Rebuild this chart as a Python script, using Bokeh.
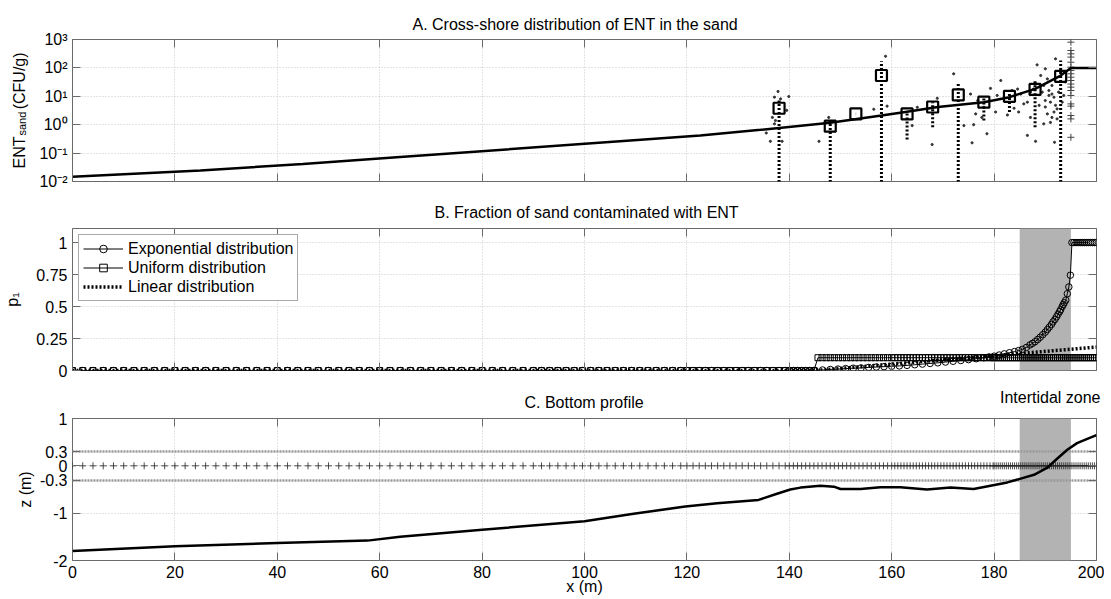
import numpy as np
from bokeh.plotting import figure
from bokeh.models import (Range1d, FixedTicker, CustomJSTickFormatter, LinearAxis, LogAxis,
                          Title, Legend, LegendItem, BoxAnnotation)
from bokeh.layouts import column
from bokeh.embed import file_html
from bokeh.resources import INLINE

FONT = "Liberation Sans"

# ---------------- data ----------------
X_TICKS = [0, 20, 40, 60, 80, 100, 120, 140, 160, 180, 200]
A_Y_TICKS = [1e-2, 1e-1, 1e0, 1e1, 1e2, 1e3]
B_Y_TICKS = [0, 0.25, 0.5, 0.75, 1]
C_Y_TICKS = [-2, -1, -0.3, 0, 0.3, 1]

TITLE_A = "A. Cross-shore distribution of ENT in the sand"
TITLE_B = "B. Fraction of sand contaminated with ENT"
TITLE_C = "C. Bottom profile"
ZONE_LABEL = "Intertidal zone"
Y_LABEL_A = "ENT\u2003\u2002\u2009(CFU/g)"
Y_LABEL_A_SUB = "sand"
Y_LABEL_B = "p\u2081"
Y_LABEL_C = "z (m)"
X_LABEL = "x (m)"
INTERTIDAL = [185, 195]

# Panel A: fitted curve, station means and ranges, individual samples
FIT_X = [0, 25, 45, 64, 122.6, 134.4, 148, 158, 163, 169, 178, 183, 188, 193, 195, 200]
FIT_ENT = [0.0148, 0.0245, 0.0417, 0.0724, 0.417, 0.661, 1.17, 2.09, 2.88, 4.17, 6.17,
           9.33, 18.2, 53.7, 100, 100]
STATION_X = [138, 148, 153, 158, 163, 168, 173, 178, 183, 188, 193]
STATION_MEAN = [3.8, 0.89, 2.4, 54, 2.4, 4.2, 11.2, 6.2, 10, 17.4, 50]
STATION_HIGH = [7.1, 1.6, 2.4, 170, 3.0, 6.2, 27, 9.4, 18, 36, 182]
STATION_LOW = [0.001, 0.001, 2.4, 0.001, 0.30, 0.81, 0.001, 1.4, 2.8, 0.81, 0.001]
SAMPLE_X = [137.8, 137.1, 139.9, 136.7, 137.3, 137.1, 139.5, 135.5, 136.3, 138.6, 138.3,
            147.7, 145.8, 158.8, 156.5, 159.1, 164.0, 167.9, 165.0, 168.9, 172.1, 175.4,
            174.1, 176.0, 175.7, 178.6, 176.4, 178.0, 181.3, 180.3, 183.9, 184.6, 185.2,
            179.3, 185.8, 182.6, 184.8, 186.5, 187.1, 186.5, 188.1, 188.4, 189.1, 190.0,
            190.4, 189.7, 190.7, 191.3, 191.7, 190.0, 191.0, 192.0, 192.3, 190.4, 191.3,
            191.0, 189.7, 191.8, 192.0, 193.9, 193.6, 193.3, 192.3, 189.4, 190.7, 191.7,
            188.8, 192.6, 190.0, 191.3, 187.7, 187.1, 176.8, 180.6, 183.5, 177.6]
SAMPLE_ENT = [14.8, 9.3, 9.8, 1.8, 1.4, 1.07, 3.2, 0.51, 0.26, 0.26, 8.1,
              1.8, 0.26, 257, 3.5, 4.5, 0.93, 0.2, 4.1, 8.5, 62, 12,
              0.93, 1.0, 0.23, 0.48, 2.4, 4.1, 36, 2.8, 3.8, 18, 12,
              19, 5.4, 2.2, 2.8, 6.2, 1.8, 0.42, 0.26, 128, 54, 93,
              41, 24, 16, 12, 9.3, 7.1, 6.2, 4.8, 3.6, 2.4, 1.8,
              1.2, 1.07, 0.24, 209, 32, 10.7, 6.2, 1.6, 14, 10.7, 2.8,
              4.8, 14, 4.2, 24, 18, 14, 7.1, 10.7, 16, 1.8]
SHORE_X = [195] * 19
SHORE_ENT = [806, 410, 313, 240, 159, 106, 81, 62, 47, 36, 27, 21, 16, 10.7, 5.4, 4.5,
             2.1, 1.6, 0.36]

# Model grid (read spacing of the markers): (start, stop, step)
GRID_STEPS = [(0.0, 90.0, 2.0), (90.0, 120.0, 1.6), (120.0, 140.0, 1.2),
              (140.0, 160.0, 0.8), (160.0, 180.0, 0.6), (180.0, 200.01, 0.4)]

# Panel B
CONTAM_START = 145
EXP_RISE_X = [145, 146.5, 148, 149.5, 151, 152.5, 154, 155.5, 157, 158.5, 160, 161.5, 163,
              164.5, 166, 167.5, 169, 170.5, 172, 173.5, 175, 176.5, 178, 179, 180, 181, 182,
              183, 184, 184.8, 185.5, 186.3, 187, 187.5, 188, 188.5, 189, 189.5, 190, 190.4,
              190.8, 191.2, 191.5, 191.9, 192.2, 192.5, 192.8, 193.0, 193.3, 193.5, 193.7,
              194.0, 194.3, 194.6, 194.9]
EXP_RISE_P = [0.0, 0.004, 0.008, 0.011, 0.015, 0.018, 0.02, 0.024, 0.027, 0.03, 0.033,
              0.036, 0.04, 0.045, 0.05, 0.055, 0.06, 0.066, 0.072, 0.078, 0.085, 0.092, 0.1,
              0.106, 0.112, 0.121, 0.13, 0.139, 0.148, 0.156, 0.165, 0.18, 0.2, 0.212, 0.225,
              0.242, 0.26, 0.28, 0.3, 0.32, 0.34, 0.36, 0.38, 0.40, 0.42, 0.44, 0.46, 0.475,
              0.5, 0.515, 0.53, 0.55, 0.60, 0.653, 0.745]
EXP_SHORE_P = 1.0
UNIFORM_P = 0.1
LINEAR_X = [0, 145, 200]
LINEAR_P = [0, 0, 0.183]

# Panel C
TIDE_LEVELS = [0.3, -0.3]
PROFILE_X = [0, 20, 40, 57.6, 64, 80, 100, 109.6, 119.7, 125.9, 134, 137.6, 140.2, 142.2,
             146.1, 148.7, 150, 153.9, 157.8, 161.7, 166.9, 171.5, 176, 179.3, 182.6, 185.2,
             187.8, 190.4, 192.3, 194.3, 196.2, 198.2, 200]
PROFILE_Z = [-1.80, -1.70, -1.63, -1.58, -1.50, -1.35, -1.17, -1.01, -0.86, -0.79, -0.72,
             -0.59, -0.50, -0.46, -0.42, -0.44, -0.49, -0.49, -0.45, -0.45, -0.50, -0.46,
             -0.49, -0.42, -0.35, -0.27, -0.19, -0.04, 0.15, 0.34, 0.48, 0.57, 0.65]

# ---------------- derived ----------------
grid_x = np.concatenate([np.arange(a, b, s) for a, b, s in GRID_STEPS])
pre = grid_x[grid_x < CONTAM_START]
shore = grid_x[grid_x >= INTERTIDAL[1]]
exp_x = np.concatenate([pre, EXP_RISE_X, shore])
exp_p = np.concatenate([np.zeros(len(pre)), EXP_RISE_P, np.full(len(shore), EXP_SHORE_P)])
uni_p = np.where(grid_x < CONTAM_START, 0.0, UNIFORM_P)

# ---------------- styling helpers ----------------
W = 1104
x_range = Range1d(0, 200)
GRID_COLOR = "#c8c8c8"
FRAME_COLOR = "#6a6a6a"
BAND_COLOR = "#b3b3b3"


def make_fig(height, top, bottom, y_range, log=False):
    p = figure(width=W, height=height, x_range=x_range, y_range=y_range, title=None,
               y_axis_type="log" if log else "linear",
               output_backend="svg", toolbar_location=None,
               min_border_left=72, min_border_right=8, min_border_top=top,
               min_border_bottom=bottom)
    p.outline_line_color = FRAME_COLOR
    p.outline_line_width = 1
    p.background_fill_color = "white"
    p.border_fill_color = "white"
    p.xgrid.grid_line_color = GRID_COLOR
    p.ygrid.grid_line_color = GRID_COLOR
    p.xgrid.grid_line_dash = "1 2"
    p.ygrid.grid_line_dash = "1 2"
    p.xgrid.ticker = FixedTicker(ticks=X_TICKS)
    return p


def style_axis(ax, show_labels):
    ax.axis_line_color = None
    ax.major_tick_in = 8
    ax.major_tick_out = 0
    ax.major_tick_line_color = FRAME_COLOR
    ax.minor_tick_line_color = None
    ax.major_label_text_font = FONT
    ax.axis_label_text_font = FONT
    ax.axis_label_text_font_size = "16px"
    ax.axis_label_text_font_style = "normal"
    ax.axis_label_text_color = "black"
    if show_labels:
        ax.major_label_text_color = "black"
        ax.major_label_text_font_size = "16px"
        ax.major_label_standoff = 5
    else:
        ax.major_label_text_color = None
        ax.major_label_text_font_size = "1px"
        ax.major_label_standoff = 0


def setup_axes(p, yticks, show_x_labels, log=False):
    bottom_ax = p.below[0]
    left_ax = p.left[0]
    bottom_ax.ticker = FixedTicker(ticks=X_TICKS)
    bottom_ax.formatter = CustomJSTickFormatter(code="return String(tick);")
    style_axis(bottom_ax, show_x_labels)
    left_ax.ticker = FixedTicker(ticks=yticks)
    p.ygrid.ticker = FixedTicker(ticks=yticks)
    if log:
        left_ax.formatter = CustomJSTickFormatter(code="""
            const sup = {'-':'\u207b','0':'\u2070','1':'\u00b9','2':'\u00b2','3':'\u00b3'};
            const e = Math.round(Math.log10(tick));
            return '10' + String(e).split('').map(c => sup[c]).join('');
        """)
    else:
        left_ax.formatter = CustomJSTickFormatter(code="return String(tick);")
    style_axis(left_ax, True)
    top = LinearAxis(ticker=FixedTicker(ticks=X_TICKS))
    style_axis(top, False)
    p.add_layout(top, "above")
    right = LogAxis(ticker=FixedTicker(ticks=yticks)) if log else LinearAxis(ticker=FixedTicker(ticks=yticks))
    style_axis(right, False)
    p.add_layout(right, "right")
    return bottom_ax, left_ax


def add_title(p, text, side, align, offset, standoff, size="16px", valign="bottom"):
    p.add_layout(Title(text=text, align=align, offset=offset, standoff=standoff,
                       vertical_align=valign, text_font=FONT, text_font_size=size,
                       text_font_style="normal", text_color="black"), side)


# ---------------- Panel A ----------------
yA = Range1d(1e-2, 1e3)
pA = make_fig(190, 39, 9, yA, log=True)
_, leftA = setup_axes(pA, A_Y_TICKS, False, log=True)
leftA.axis_label = Y_LABEL_A
leftA.axis_label_standoff = 8

pA.scatter(SAMPLE_X, SAMPLE_ENT, marker="circle", size=2.2, fill_color="#333333",
           line_color="#333333")
pA.scatter(SHORE_X, SHORE_ENT, marker="cross", size=7, line_color="#444444", line_width=1)
pA.segment(x0=STATION_X, y0=STATION_LOW, x1=STATION_X, y1=STATION_HIGH, line_color="black",
           line_width=3, line_dash="2 2")
pA.line(FIT_X, FIT_ENT, line_color="black", line_width=2.5)
pA.scatter(STATION_X, STATION_MEAN, marker="square", size=11, fill_color=None,
           line_color="black", line_width=2.2)

add_title(pA, TITLE_A, "above", "left", 340, 13)
add_title(pA, Y_LABEL_A_SUB, "left", "left", 46, -39, size="11px")

# ---------------- Panel B ----------------
yB = Range1d(0, 1.11)
pB = make_fig(190, 38, 10, yB)
_, leftB = setup_axes(pB, B_Y_TICKS, False)
leftB.axis_label = Y_LABEL_B
leftB.axis_label_standoff = 12
pB.add_layout(BoxAnnotation(left=INTERTIDAL[0], right=INTERTIDAL[1], fill_color=BAND_COLOR,
                            fill_alpha=1, line_color=None, level="underlay"))

lin = pB.line(LINEAR_X, LINEAR_P, line_color="black", line_width=3.5, line_dash="2 2")
uni_line = pB.line(grid_x, uni_p, line_color="black", line_width=1)
uni_pts = pB.scatter(grid_x, uni_p, marker="square", size=6, fill_color=None,
                     line_color="black", line_width=1)
exp_line = pB.line(exp_x, exp_p, line_color="black", line_width=1)
exp_pts = pB.scatter(exp_x, exp_p, marker="circle", size=6.5, fill_color=None,
                     line_color="black", line_width=1)

legend = Legend(items=[
    LegendItem(label="Exponential distribution", renderers=[exp_line, exp_pts]),
    LegendItem(label="Uniform distribution", renderers=[uni_line, uni_pts]),
    LegendItem(label="Linear distribution", renderers=[lin]),
], location="top_left")
legend.margin = 6
legend.padding = 4
legend.spacing = 0
legend.label_height = 19
legend.glyph_height = 19
legend.glyph_width = 40
legend.label_standoff = 5
legend.label_text_font = FONT
legend.label_text_font_size = "16px"
legend.label_text_color = "black"
legend.border_line_color = "#555555"
legend.border_line_width = 1
legend.background_fill_color = "white"
legend.background_fill_alpha = 1
pB.add_layout(legend)

add_title(pB, TITLE_B, "above", "left", 362, 15)

# ---------------- Panel C ----------------
yC = Range1d(-2, 1)
pC = make_fig(218, 38, 38, yC)
bottomC, leftC = setup_axes(pC, C_Y_TICKS, True)
leftC.axis_label = Y_LABEL_C
leftC.axis_label_standoff = 3
bottomC.axis_label = X_LABEL
bottomC.axis_label_standoff = -3
pC.add_layout(BoxAnnotation(left=INTERTIDAL[0], right=INTERTIDAL[1], fill_color=BAND_COLOR,
                            fill_alpha=1, line_color=None, level="underlay"))
pC.hspan(y=TIDE_LEVELS, line_color="#9a9a9a", line_width=2.5, line_dash="2 1")
pC.scatter(grid_x, np.zeros(len(grid_x)), marker="cross", size=7, line_color="#222222",
           line_width=0.8)
pC.line(PROFILE_X, PROFILE_Z, line_color="black", line_width=2.5)

add_title(pC, TITLE_C, "above", "left", 452, 16)
add_title(pC, ZONE_LABEL, "above", "right", -4, -45)

layout = column(pA, pB, pC, spacing=0)
open("out.html", "w").write(file_html(layout, INLINE))
